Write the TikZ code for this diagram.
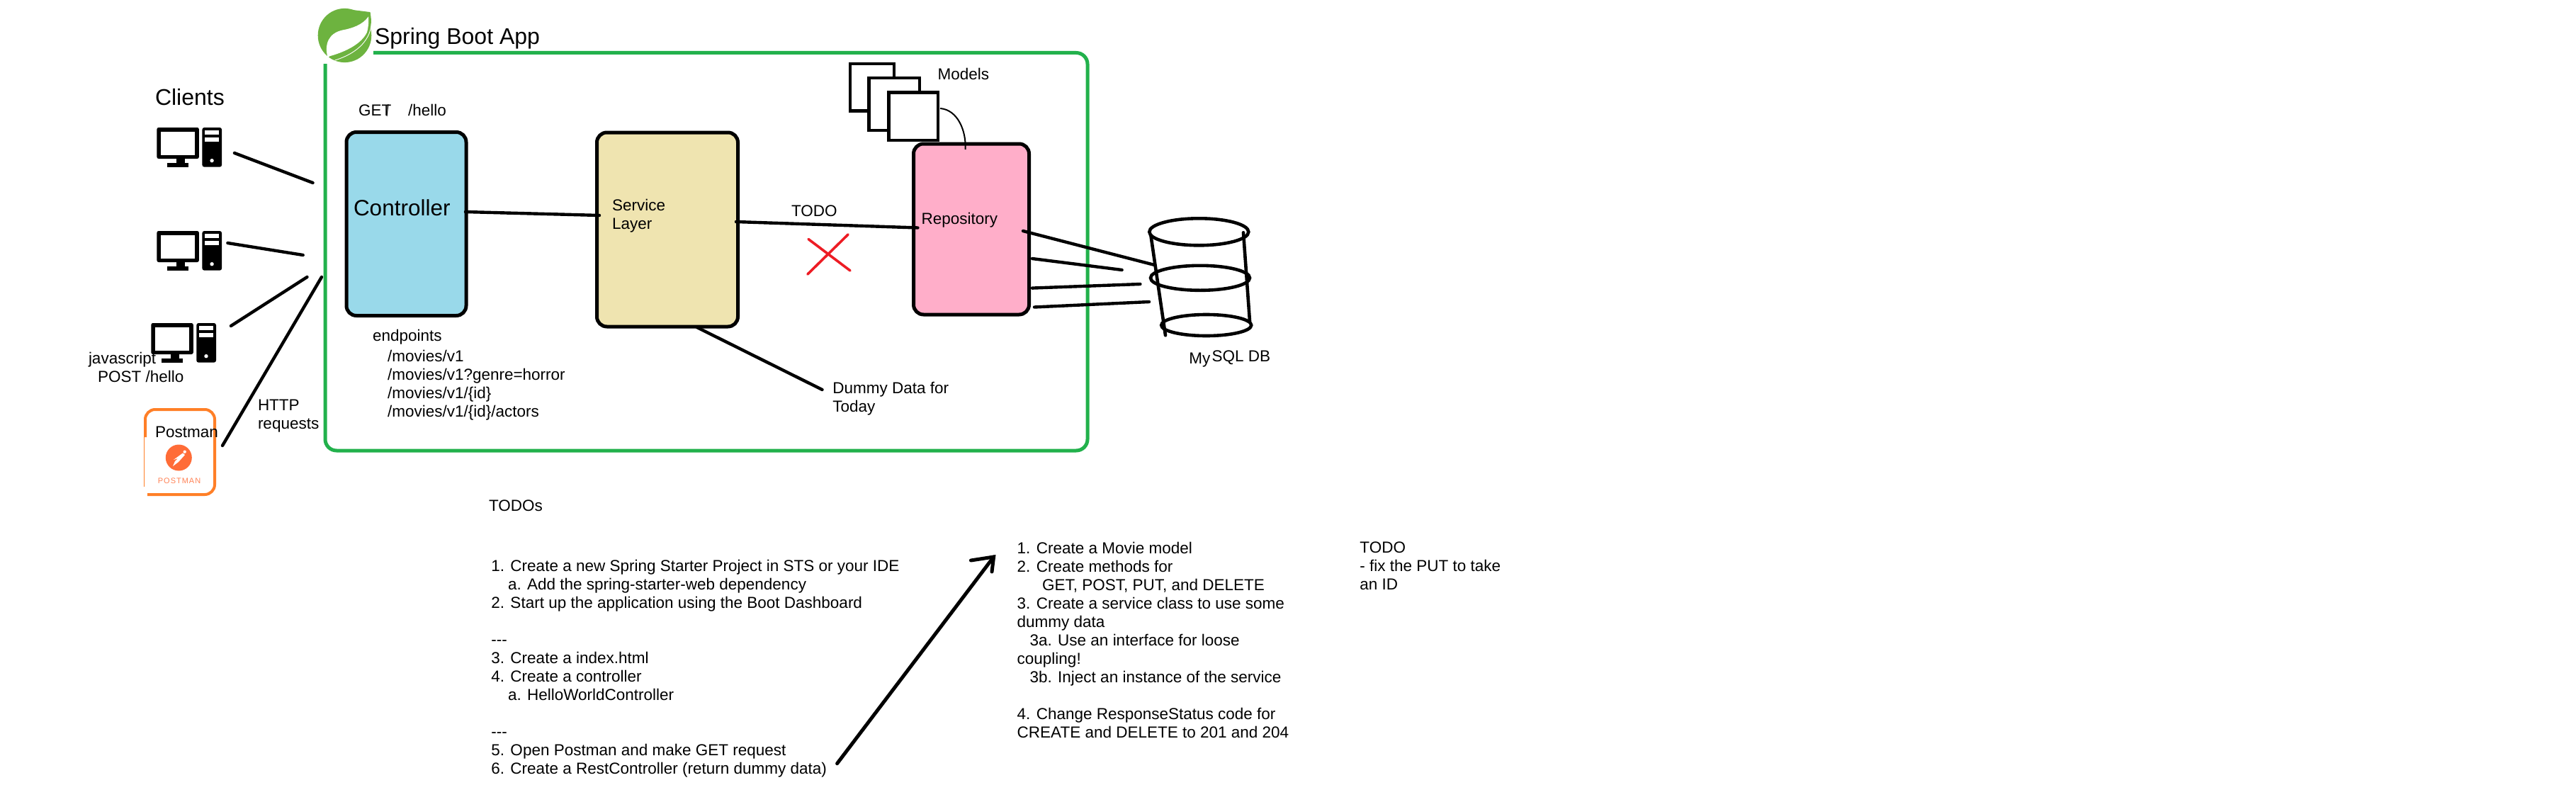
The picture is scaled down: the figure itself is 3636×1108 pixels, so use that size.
\documentclass[tikz,border=0pt]{standalone}
\usepackage{fontspec}
\setmainfont{Liberation Sans}
\definecolor{grn}{HTML}{22B14C}
\definecolor{ctrlc}{HTML}{99D9EA}
\definecolor{svcc}{HTML}{EFE4B0}
\definecolor{repoc}{HTML}{FFAEC9}
\definecolor{xred}{HTML}{ED1C24}
\definecolor{pmo}{HTML}{FF7F27}
\definecolor{pmc}{HTML}{FF6C37}
\definecolor{leaf}{HTML}{6DB33F}
\newfontfamily\pmfont[LetterSpace=9]{Liberation Sans}
\tikzset{
  x=1pt,y=-1pt,
  txt/.style={anchor=north west,inner sep=0pt,outer sep=0pt,align=left,font=\fontsize{22.5}{26}\selectfont},
  big/.style={anchor=base west,inner sep=0pt,outer sep=0pt,font=\fontsize{32}{36}\selectfont},
  ink/.style={draw=black,line width=4.4pt,line cap=round},
  boxs/.style={draw=black,line width=5pt,rounded corners=14pt,anchor=north west,inner sep=0pt,outer sep=0pt},
  pics/computer/.style={code={
    \fill[black,rounded corners=2.5pt] (0,0) rectangle (59.5,44);
    \fill[white] (5.5,5.5) rectangle (54,38.5);
    \fill[black] (28,44) rectangle (40,50);
    \fill[black] (15,50) rectangle (45,55.7);
    \fill[black,rounded corners=3pt] (64,0) rectangle (91.7,55.7);
    \fill[white] (67.7,4) rectangle (87.7,10);
    \fill[white] (67.7,14) rectangle (87.7,20);
    \fill[white] (77.7,46.7) circle (2.7);
  }}
}
\begin{document}
\begin{tikzpicture}
\path[use as bounding box,fill=white] (0,0) rectangle (3636,1108);
% app frame
\draw[grn,line width=5pt,rounded corners=16pt] (459,90) -- (459,636) -- (1535,636) -- (1535,74.5) -- (527,74.5);
% logo
\begin{scope}[shift={(486.5,50)},x=0.35pt,y=-0.37pt]
  \fill[leaf] (0,0) circle [x radius=108,y radius=103];
  \fill[leaf] (35,-97) -- (103,-89) .. controls (118,-20) and (90,50) .. (-5,100) -- cycle;
  \fill[white] (-68,86) .. controls (-83,33) and (-65,-8) .. (-10,-20) .. controls (30,-27) and (72,-40) .. (96,-72) .. controls (97,-47) and (95,-27) .. (90,-12) .. controls (68,32) and (5,62) .. (-60,79) -- cycle;
  \draw[white,line width=0.9pt] (105,-89) .. controls (122,-17) and (85,58) .. (-40,95);
  \fill[white] (-65,93) circle (8);
\end{scope}
\node[big] (app) at (529,63) {Spring Boot App};
\node[big] (clients) at (219,148) {Clients};
% computers
\pic at (221.4,180) {computer};
\pic at (221.4,326) {computer};
\pic at (213.3,456) {computer};
\node[txt] (js) at (125,494.8) {\strut javascript};
\node[txt] (post) at (138,520.8) {\strut POST /hello};
% postman card
\draw[pmo,line width=4pt,rounded corners=14pt] (205,617) -- (205,578) -- (303,578) -- (303,698) -- (208,698);
\draw[pmo,line width=1.5pt] (203.5,617) -- (203.5,687);
\node[txt] (pmlabel) at (219,598.8) {\strut Postman};
\fill[pmc] (252.3,646) circle (18.5);
\fill[white] (260.7,637.7) circle (2.2);
\fill[white] (258,639.5) -- (261,642) -- (252,652) -- (244,658) -- (247,651) -- (251,647) -- (245,649) -- cycle;
\node[anchor=base west,inner sep=0pt,text=pmc!85!white,font=\fontsize{11}{14}\selectfont\pmfont] (pmword) at (222.7,682) {POSTMAN};
% client connectors
\coordinate (c1) at (331,216); \coordinate (a1) at (441.5,258);
\coordinate (c2) at (321.4,343); \coordinate (a2) at (427.7,360);
\coordinate (c3) at (326,460); \coordinate (a3) at (433.5,391);
\coordinate (c4) at (314,629); \coordinate (a4) at (454,391);
\draw[ink] (c1) -- (a1);
\draw[ink] (c2) -- (a2);
\draw[ink] (c3) -- (a3);
\draw[ink] (c4) -- (a4);
\node[txt] (http) at (364,560.8) {\strut HTTP\\\strut requests};
% GET
\node[txt] (get) at (506,144.8) {\strut GET};
\coordinate (gm1) at (548,147); \coordinate (gm2) at (546,164);
\draw[black,line width=1pt] (gm1) -- (gm2);
\node[txt] (hello) at (576,144.8) {\strut /hello};
% boxes
\node[boxs,fill=ctrlc,minimum width=169pt,minimum height=259pt] (ctrl) at (489,186.5) {};
\node[big,font=\fontsize{31.5}{36}\selectfont] (ctrlt) at (499,304) {Controller};
\node[boxs,fill=svcc,minimum width=199pt,minimum height=274pt] (svc) at (842.5,187) {};
\node[txt] (svct) at (864,279.4) {\strut Service\\\strut Layer};
% models
\draw[black,fill=white,line width=4.4pt] (1200,90) rectangle (1262,156.6);
\draw[black,fill=white,line width=4.4pt] (1226.5,110) rectangle (1298,184);
\draw[black,fill=white,line width=4.4pt] (1254.6,130.5) rectangle (1324,198);
\node[boxs,fill=repoc,minimum width=163pt,minimum height=241pt] (repo) at (1289.5,203) {};
\node[txt] (repot) at (1300.6,298.3) {\strut Repository};
\node[txt] (models) at (1323.5,93.8) {\strut Models};
\coordinate (m1) at (1327,153); \coordinate (m2) at (1362.6,211);
\draw[black,line width=2pt] (m1) .. controls (1352,155) and (1364,185) .. (m2);
% box connectors
\coordinate (cs1) at (657,299); \coordinate (cs2) at (846,304);
\draw[ink] (cs1) -- (cs2);
\coordinate (sr1) at (1039,313); \coordinate (sr2) at (1295.4,321.5);
\draw[ink] (sr1) -- (sr2);
\node[txt] (todo1) at (1117,287.4) {\strut TODO};
\coordinate (x1) at (1141,337.5); \coordinate (x2) at (1200,382);
\coordinate (x3) at (1197,331); \coordinate (x4) at (1140,387);
\draw[xred,line width=3.6pt,line cap=round] (x1) -- (x2);
\draw[xred,line width=3.6pt,line cap=round] (x3) -- (x4);
\coordinate (d1) at (983.7,462); \coordinate (d2) at (1160.5,550);
\draw[ink] (d1) -- (d2);
\node[txt] (dummy) at (1175.4,536.8) {\strut Dummy Data for\\\strut Today};
% database
\draw[black,line width=4.6pt] (1692.3,327.3) ellipse [x radius=70,y radius=19];
\draw[black,line width=4.6pt] (1694,392.3) ellipse [x radius=70,y radius=17.5];
\draw[black,line width=4.6pt] (1702.7,459) ellipse [x radius=63.5,y radius=15];
\coordinate (dl1) at (1624.3,331.7); \coordinate (dl2) at (1645,473.3);
\coordinate (dr1) at (1755,328.3); \coordinate (dr2) at (1764,453.3);
\draw[ink,line width=4.6pt] (dl1) -- (dl2);
\draw[ink,line width=4.6pt] (dr1) -- (dr2);
\coordinate (ra) at (1444,326); \coordinate (da) at (1629.5,374);
\coordinate (rb) at (1457,365); \coordinate (db) at (1583.6,381);
\coordinate (rc) at (1457,406.6); \coordinate (dc) at (1609.4,401);
\coordinate (rd) at (1460,433.5); \coordinate (dd) at (1622,426);
\draw[ink] (ra) -- (da);
\draw[ink] (rb) -- (db);
\draw[ink] (rc) -- (dc);
\draw[ink] (rd) -- (dd);
\node[txt] (my) at (1678.3,494.8) {\strut My};
\node[txt] (sql) at (1710.7,491.8) {\strut SQL DB};
% endpoints
\node[txt] (ep) at (526,462.8) {\strut endpoints};
\node[txt] (eplist) at (547,491.8) {\strut /movies/v1\\\strut /movies/v1?genre=horror\\\strut /movies/v1/\{id\}\\\strut /movies/v1/\{id\}/actors};
% todo lists
\node[txt] (todos) at (690,702.8) {\strut TODOs};
\node[txt] (list1) at (693.4,788.5) {\strut 1. Create a new Spring Starter Project in STS or your IDE\\
\strut\hspace*{23.6pt}a. Add the spring-starter-web dependency\\
\strut 2. Start up the application using the Boot Dashboard\\
\strut\\
\strut -{}-{}-\\
\strut 3. Create a index.html\\
\strut 4. Create a controller\\
\strut\hspace*{23.6pt}a. HelloWorldController\\
\strut\\
\strut -{}-{}-\\
\strut 5. Open Postman and make GET request\\
\strut 6. Create a RestController (return dummy data)};
\coordinate (ar0) at (1181.6,1077.7); \coordinate (ar1) at (1402.6,786);
\coordinate (ar2) at (1370.4,791); \coordinate (ar3) at (1400,807);
\draw[ink,line width=5pt] (ar0) -- (ar1);
\draw[ink,line width=5pt] (ar2) -- (ar1) -- (ar3);
\node[txt] (list2) at (1435.7,763) {\strut 1. Create a Movie model\\
\strut 2. Create methods for\\
\strut\hspace*{35.3pt}GET, POST, PUT, and DELETE\\
\strut 3. Create a service class to use some\\
\strut dummy data\\
\strut\hspace*{17.9pt}3a. Use an interface for loose\\
\strut coupling!\\
\strut\hspace*{17.9pt}3b. Inject an instance of the service\\
\strut\\
\strut 4. Change ResponseStatus code for\\
\strut CREATE and DELETE to 201 and 204};
\node[txt] (list3) at (1919.4,761.8) {\strut TODO\\\strut - fix the PUT to take\\\strut an ID};
\end{tikzpicture}
\end{document}
